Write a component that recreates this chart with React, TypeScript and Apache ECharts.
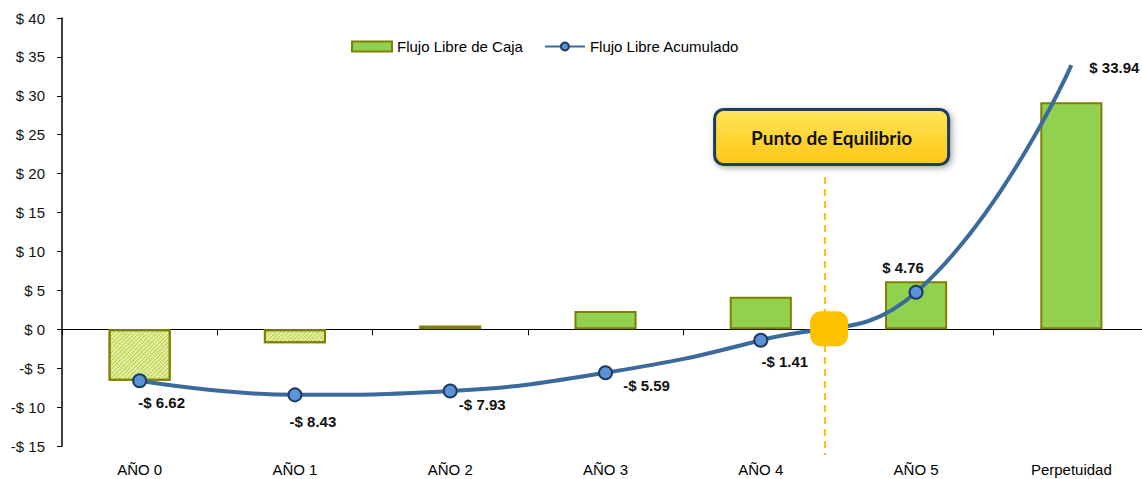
import React, { useEffect, useRef } from "react";
import * as echarts from "echarts";

// Categories and values (millions)
const categories = ["AÑO 0", "AÑO 1", "AÑO 2", "AÑO 3", "AÑO 4", "AÑO 5", "Perpetuidad"];
const flujoLibre = [-6.62, -1.81, 0.5, 2.34, 4.18, 6.17, 29.18];
const flujoAcumulado = [-6.62, -8.43, -7.93, -5.59, -1.41, 4.76, 33.94];
const yTicks = { min: -15, max: 40, interval: 5 };
// Break-even point located between AÑO 4 and AÑO 5 (category index units)
const breakEvenIndex = 4.44;
const breakEvenLabel = "Punto de Equilibrio";

// Label offsets for the cumulative line, relative to each point
const labelOffsets: [number, number][] = [
  [22, 22],
  [18, 27],
  [32, 14],
  [41, 13],
  [24, 21],
  [-13, -25],
  [43, 2],
];

const fmt = (v: number) => (v < 0 ? `-$ ${Math.abs(v)}` : `$ ${v}`);
const fmt2 = (v: number) => (v < 0 ? `-$ ${Math.abs(v).toFixed(2)}` : `$ ${v.toFixed(2)}`);

const FONT = "'Liberation Sans', Arial, sans-serif";

export default function App() {
  const ref = useRef<HTMLDivElement>(null);

  useEffect(() => {
    if (!ref.current) return;
    const chart = echarts.init(ref.current, undefined, { renderer: "svg" });

    const barData = flujoLibre.map((v) =>
      v < 0
        ? {
            value: v,
            itemStyle: {
              color: "#EEF5C0",
              borderColor: "#808000",
              borderWidth: 2,
              decal: {
                symbol: "rect",
                symbolSize: 1,
                color: "#A8C418",
                dashArrayX: [2, 1],
                dashArrayY: [1, 1],
                rotation: Math.PI / 4,
              },
            },
          }
        : v
    );

    const lastIdx = flujoAcumulado.length - 1;
    const lineData = flujoAcumulado.map((v, i) => ({
      value: v,
      symbolSize: i === lastIdx ? 0 : 13,
      label: {
        show: true,
        position: "inside" as const,
        offset: labelOffsets[i],
        formatter: () => fmt2(v),
      },
    }));

    chart.setOption({
      animation: false,
      textStyle: { fontFamily: FONT },
      grid: {
        left: 62,
        width: 1087,
        top: 18,
        bottom: 33,
        containLabel: false,
        outerBoundsMode: "none",
      },
      legend: {
        left: 346,
        top: 34,
        itemWidth: 40,
        itemHeight: 10,
        itemGap: 21,
        textStyle: { fontFamily: FONT, fontSize: 15, color: "#000" },
        data: [
          { name: "Flujo Libre de Caja", icon: "rect" },
          { name: "Flujo Libre Acumulado" },
        ],
      },
      xAxis: [
        {
          type: "category",
          data: categories,
          position: "bottom",
          axisLine: { show: false, onZero: false },
          axisTick: { show: false },
          axisLabel: { fontFamily: FONT, fontSize: 15, color: "#000", margin: 16 },
        },
        {
          type: "category",
          data: categories,
          position: "bottom",
          axisLine: { show: true, onZero: true, lineStyle: { color: "#000", width: 1 } },
          axisTick: { show: true, length: 6, lineStyle: { color: "#000" } },
          axisLabel: { show: false },
        },
      ],
      yAxis: {
        type: "value",
        min: yTicks.min,
        max: yTicks.max,
        interval: yTicks.interval,
        splitLine: { show: false },
        axisLine: { show: true, lineStyle: { color: "#000", width: 1.5 } },
        axisTick: { show: true, length: 5, lineStyle: { color: "#000" } },
        axisLabel: { formatter: fmt, fontFamily: FONT, fontSize: 15, color: "#111", margin: 17 },
      },
      series: [
        {
          name: "Flujo Libre de Caja",
          type: "bar",
          xAxisIndex: 0,
          barWidth: "40%",
          itemStyle: { color: "#92D050", borderColor: "#808000", borderWidth: 2 },
          data: barData,
        },
        {
          name: "Flujo Libre Acumulado",
          type: "line",
          xAxisIndex: 0,
          smooth: 0.45,
          symbol: "circle",
          lineStyle: { color: "#3B6A9C", width: 4 },
          itemStyle: { color: "#5B93D8", borderColor: "#1F3A60", borderWidth: 2 },
          label: { fontFamily: FONT, fontSize: 15, fontWeight: "bold", color: "#111" },
          data: lineData,
          z: 3,
        },
      ],
    });

    // Break-even marker, guide line and callout, placed through the axes
    const x4 = chart.convertToPixel({ xAxisIndex: 0 }, 4) as number;
    const x5 = chart.convertToPixel({ xAxisIndex: 0 }, 5) as number;
    const bx = x4 + (x5 - x4) * (breakEvenIndex - 4);
    const y0 = chart.convertToPixel({ yAxisIndex: 0 }, 0) as number;
    const yBottom = chart.convertToPixel({ yAxisIndex: 0 }, yTicks.min) as number;

    chart.setOption({
      graphic: [
        {
          type: "line",
          shape: { x1: bx - 4, y1: 177, x2: bx - 4, y2: yBottom + 9 },
          style: { stroke: "#FFC000", lineWidth: 2, lineDash: [7, 5] },
          z: 1,
        },
        {
          type: "rect",
          shape: { x: bx - 19, y: y0 - 18, width: 38, height: 35, r: 11 },
          style: { fill: "#FFC000" },
          z: 10,
        },
        {
          type: "group",
          left: bx - 116,
          top: 108,
          children: [
            {
              type: "rect",
              shape: { x: 0, y: 0, width: 234, height: 55, r: 9 },
              style: {
                fill: new echarts.graphic.LinearGradient(0, 0, 0, 1, [
                  { offset: 0, color: "#FFE45C" },
                  { offset: 0.5, color: "#FFD633" },
                  { offset: 1, color: "#FFC61A" },
                ]),
                stroke: "#1F3A60",
                lineWidth: 3,
                shadowBlur: 6,
                shadowOffsetX: 2,
                shadowOffsetY: 2,
                shadowColor: "rgba(0,0,0,0.35)",
              },
            },
            {
              type: "text",
              style: {
                x: 117,
                y: 28,
                text: breakEvenLabel,
                align: "center",
                verticalAlign: "middle",
                font: "bold 19px Lato, 'Open Sans', sans-serif",
                fill: "#111",
              },
            },
          ],
          z: 10,
        },
      ],
    });

    return () => chart.dispose();
  }, []);

  return <div ref={ref} style={{ width: 1142, height: 479, position: "absolute", left: 0, top: 0 }} />;
}
